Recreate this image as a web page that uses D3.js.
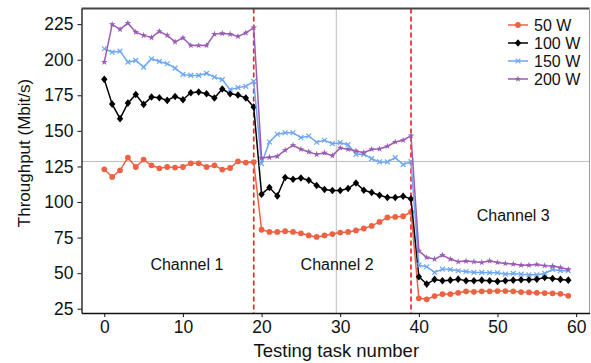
<!DOCTYPE html>
<html>
<head>
<meta charset="utf-8">
<script src="https://cdn.jsdelivr.net/npm/d3@7"></script>
<style>
    body { margin: 0; background: #fff; }
    text { font-family: "Liberation Sans", Arial, sans-serif; }
</style>
</head>
<body>
<div id="container"></div>
<script>

// throughput per testing task, one array per power level
var w50 = [123.0, 117.6, 122.3, 131.2, 124.6, 129.8, 125.8, 123.7, 124.6, 124.2, 124.6, 127.2, 127.2, 124.6, 125.8, 122.8, 123.9, 128.6, 127.7, 128.1,
    80.5, 79, 79, 79.5, 79, 78, 76.5, 75.5, 76.5, 77.5, 78.5, 79, 80, 81.4, 83.2, 86, 89.1, 89.5, 90, 93,
    32.3, 31.6, 33.9, 35.3, 35.3, 36.2, 37.2, 36.9, 37.2, 37.2, 37.4, 37.4, 37.2, 36.7, 36.5, 36.2, 36, 35.8, 35.5, 34.1];

var w100 = [186.2, 168.8, 158.6, 169.5, 175.6, 168.6, 173.8, 173.3, 171.4, 174.2, 171.9, 176.8, 177.3, 176.1, 173.1, 179.4, 176.1, 175.2, 173.1, 166.7,
    105.5, 110.2, 104.3, 117.2, 116, 116.9, 115.3, 111.6, 108.8, 108.1, 108.1, 109.5, 113.4, 108.3, 106.7, 104.8, 103.2, 103.2, 104.1, 102.2,
    47.5, 42.3, 45.6, 44.7, 45.1, 45.8, 44.7, 44.7, 45.1, 44.7, 44.2, 44.7, 45.1, 45.4, 45.4, 45.8, 47, 46.2, 45.6, 45.1];

var w150 = [207.7, 205.3, 206, 198.3, 199.5, 194.8, 200.7, 198.8, 197.2, 194.1, 189.7, 189, 189, 190.4, 187.8, 186, 179, 180.4, 181.3, 184.8,
    127, 142.2, 147.6, 148.7, 148.7, 145.2, 146.4, 142, 143.4, 141, 141.7, 140.3, 133.5, 133.5, 130.5, 128.2, 128.2, 131.2, 126.3, 128.4,
    55.6, 54.5, 50.5, 52.8, 52.6, 51.7, 51.2, 50.5, 50.5, 50.3, 50.3, 49.3, 49.8, 49.3, 48.9, 48.9, 49.8, 52.6, 51.7, 51.7];

var w200 = [198.3, 224.8, 221.3, 225.7, 219.4, 217.1, 215.6, 219.9, 217.1, 212.6, 215.4, 210, 210, 210, 218, 218.5, 218, 216.4, 218.9, 222.5,
    131, 131.4, 132.1, 136.4, 139.9, 137.1, 135.2, 133.5, 134.5, 132.6, 138, 137.1, 135.9, 134.7, 137.1, 137.3, 139.2, 142.2, 143.4, 146.6,
    65.7, 61, 59.9, 62.7, 59.9, 58, 58.5, 58, 57.5, 58.7, 57.5, 56.8, 56.4, 55.6, 55.6, 56.1, 55.2, 55, 54, 52.6];

var seriesNames = ["50 W", "100 W", "150 W", "200 W"];
var xTicks = [0, 10, 20, 30, 40, 50, 60];
var yTicks = [25, 50, 75, 100, 125, 150, 175, 200, 225];
var channelSplits = [19, 39];          // red dashed lines
var refX = 29.5, refY = 128.5;         // grey guide lines
var channelLabels = ["Channel 1", "Channel 2", "Channel 3"];
var channelLabelPos = [[10.5, 52], [29.6, 52], [52, 86.5]];

var width = 591, height = 363;
var margin = { top: 8.5, right: 1.5, bottom: 50, left: 81.5 };

var svg = d3.select("#container").append("svg")
    .attr("width", width)
    .attr("height", height);

var x = d3.scaleLinear().domain([-2.9, 61.7]).range([margin.left, width - margin.right]);
var y = d3.scaleLinear().domain([22, 236]).range([height - margin.bottom, margin.top]);

var styles = [
    { data: w50,  color: "#ee6244", marker: "circle" },
    { data: w100, color: "#000000", marker: "diamond" },
    { data: w150, color: "#6ea6f2", marker: "cross" },
    { data: w200, color: "#9a5cb4", marker: "star" }
];

// guide lines
svg.append("line")
    .attr("x1", margin.left).attr("x2", width - margin.right)
    .attr("y1", y(refY)).attr("y2", y(refY))
    .attr("stroke", "#bdbdbd").attr("stroke-width", 1);
svg.append("line")
    .attr("x1", x(refX)).attr("x2", x(refX))
    .attr("y1", margin.top).attr("y2", height - margin.bottom)
    .attr("stroke", "#bdbdbd").attr("stroke-width", 1);

for (const s of channelSplits)
{
    svg.append("line")
        .attr("x1", x(s)).attr("x2", x(s))
        .attr("y1", margin.top).attr("y2", height - margin.bottom)
        .attr("stroke", "#e8282c")
        .attr("stroke-width", 1.7)
        .attr("stroke-dasharray", "5,3");
}

function drawMarker(g, kind, color)
{
    if (kind === "circle")
        g.append("circle").attr("r", 2.9).attr("fill", color);
    else if (kind === "diamond")
        g.append("path").attr("d", "M0,-3.8L3.2,0L0,3.8L-3.2,0Z").attr("fill", color);
    else if (kind === "cross")
        g.append("path").attr("d", "M-2.4,-2.4L2.4,2.4M-2.4,2.4L2.4,-2.4")
            .attr("stroke", color).attr("stroke-width", 1.2).attr("fill", "none");
    else
        g.append("path").attr("d", d3.symbol(d3.symbolStar, 14)()).attr("fill", color);
}

var line = d3.line()
    .x(function (d, i) { return x(i); })
    .y(function (d) { return y(d); });

for (const st of styles)
{
    svg.append("path")
        .datum(st.data)
        .attr("d", line)
        .attr("fill", "none")
        .attr("stroke", st.color)
        .attr("stroke-width", 1.5);

    svg.append("g").selectAll("g")
        .data(st.data)
        .join("g")
        .attr("transform", function (d, i) { return "translate(" + x(i) + "," + y(d) + ")"; })
        .each(function () { drawMarker(d3.select(this), st.marker, st.color); });
}

// frame: top and right are drawn greyer like in the original
svg.append("line")
    .attr("x1", margin.left).attr("x2", width - margin.right)
    .attr("y1", margin.top).attr("y2", margin.top)
    .attr("stroke", "#444").attr("stroke-width", 2);
svg.append("line")
    .attr("x1", width - margin.right).attr("x2", width - margin.right)
    .attr("y1", margin.top).attr("y2", height - margin.bottom)
    .attr("stroke", "#9a9a9a").attr("stroke-width", 1);

var xAxis = svg.append("g")
    .attr("transform", "translate(0," + (height - margin.bottom) + ")")
    .call(d3.axisBottom(x).tickValues(xTicks).tickSize(4).tickPadding(4).tickSizeOuter(0));
var yAxis = svg.append("g")
    .attr("transform", "translate(" + margin.left + ",0)")
    .call(d3.axisLeft(y).tickValues(yTicks).tickSize(4).tickPadding(4).tickSizeOuter(0));

for (const ax of [xAxis, yAxis])
{
    ax.selectAll("text").style("font-size", "17.5px").attr("fill", "#111");
    ax.selectAll("line").attr("stroke", "#111");
    ax.select(".domain").attr("stroke", "#111").attr("stroke-width", 1.3);
}

svg.append("text")
    .attr("x", x(29.5)).attr("y", 357)
    .attr("text-anchor", "middle")
    .style("font-size", "18.5px").attr("fill", "#111")
    .text("Testing task number");

svg.append("text")
    .attr("transform", "translate(30,153) rotate(-90)")
    .attr("text-anchor", "middle")
    .style("font-size", "17px").attr("fill", "#111")
    .text("Throughput (Mbit/s)");

channelLabels.forEach(function (lbl, i)
{
    svg.append("text")
        .attr("x", x(channelLabelPos[i][0])).attr("y", y(channelLabelPos[i][1]))
        .attr("text-anchor", "middle")
        .style("font-size", "16px").attr("fill", "#111")
        .text(lbl);
});

// legend
var legend = svg.append("g").attr("transform", "translate(508,25)");
styles.forEach(function (st, i)
{
    var row = legend.append("g").attr("transform", "translate(0," + (i * 18) + ")");
    row.append("line").attr("x1", 0).attr("x2", 20).attr("stroke", st.color).attr("stroke-width", 1.5);
    drawMarker(row.append("g").attr("transform", "translate(10,0)"), st.marker, st.color);
    row.append("text").attr("x", 26).attr("y", 6)
        .style("font-size", "16px").attr("fill", "#111")
        .text(seriesNames[i]);
});

</script>
</body>
</html>
